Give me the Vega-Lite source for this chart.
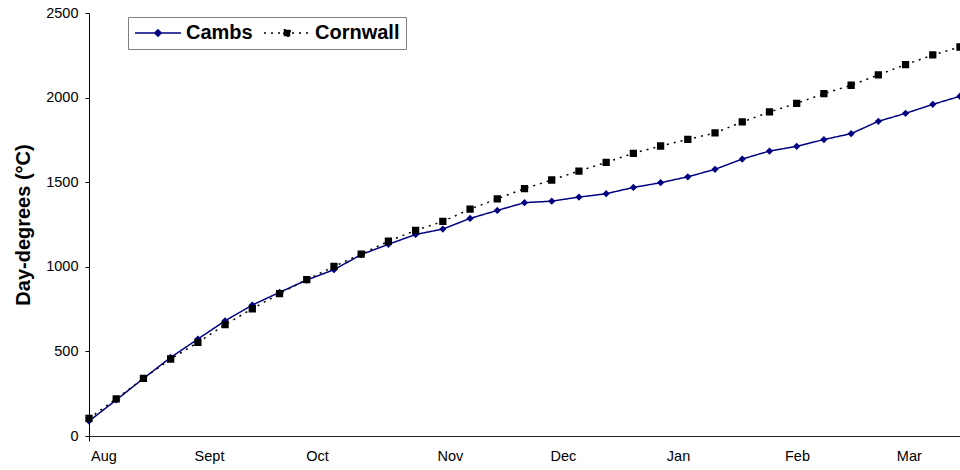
{
  "$schema": "https://vega.github.io/schema/vega-lite/v6.json",
  "width": 871,
  "height": 423,
  "autosize": {"type": "none"},
  "padding": {"left": 89, "top": 13, "right": 0, "bottom": 34},
  "background": "#ffffff",
  "config": {"view": {"stroke": null}, "font": "Liberation Sans"},
  "data": {
    "values": [
      {"week": 0, "series": "Cambs", "dd": 88}, {"week": 0, "series": "Cornwall", "dd": 104},
      {"week": 1, "series": "Cambs", "dd": 213}, {"week": 1, "series": "Cornwall", "dd": 220},
      {"week": 2, "series": "Cambs", "dd": 340}, {"week": 2, "series": "Cornwall", "dd": 341},
      {"week": 3, "series": "Cambs", "dd": 464}, {"week": 3, "series": "Cornwall", "dd": 455},
      {"week": 4, "series": "Cambs", "dd": 573}, {"week": 4, "series": "Cornwall", "dd": 553},
      {"week": 5, "series": "Cambs", "dd": 681}, {"week": 5, "series": "Cornwall", "dd": 658},
      {"week": 6, "series": "Cambs", "dd": 774}, {"week": 6, "series": "Cornwall", "dd": 752},
      {"week": 7, "series": "Cambs", "dd": 849}, {"week": 7, "series": "Cornwall", "dd": 841},
      {"week": 8, "series": "Cambs", "dd": 922}, {"week": 8, "series": "Cornwall", "dd": 924},
      {"week": 9, "series": "Cambs", "dd": 983}, {"week": 9, "series": "Cornwall", "dd": 1002},
      {"week": 10, "series": "Cambs", "dd": 1072}, {"week": 10, "series": "Cornwall", "dd": 1075},
      {"week": 11, "series": "Cambs", "dd": 1133}, {"week": 11, "series": "Cornwall", "dd": 1151},
      {"week": 12, "series": "Cambs", "dd": 1191}, {"week": 12, "series": "Cornwall", "dd": 1215},
      {"week": 13, "series": "Cambs", "dd": 1223}, {"week": 13, "series": "Cornwall", "dd": 1268},
      {"week": 14, "series": "Cambs", "dd": 1286}, {"week": 14, "series": "Cornwall", "dd": 1341},
      {"week": 15, "series": "Cambs", "dd": 1333}, {"week": 15, "series": "Cornwall", "dd": 1402},
      {"week": 16, "series": "Cambs", "dd": 1379}, {"week": 16, "series": "Cornwall", "dd": 1462},
      {"week": 17, "series": "Cambs", "dd": 1388}, {"week": 17, "series": "Cornwall", "dd": 1513},
      {"week": 18, "series": "Cambs", "dd": 1412}, {"week": 18, "series": "Cornwall", "dd": 1566},
      {"week": 19, "series": "Cambs", "dd": 1432}, {"week": 19, "series": "Cornwall", "dd": 1617},
      {"week": 20, "series": "Cambs", "dd": 1469}, {"week": 20, "series": "Cornwall", "dd": 1671},
      {"week": 21, "series": "Cambs", "dd": 1497}, {"week": 21, "series": "Cornwall", "dd": 1714},
      {"week": 22, "series": "Cambs", "dd": 1532}, {"week": 22, "series": "Cornwall", "dd": 1753},
      {"week": 23, "series": "Cambs", "dd": 1576}, {"week": 23, "series": "Cornwall", "dd": 1791},
      {"week": 24, "series": "Cambs", "dd": 1637}, {"week": 24, "series": "Cornwall", "dd": 1856},
      {"week": 25, "series": "Cambs", "dd": 1684}, {"week": 25, "series": "Cornwall", "dd": 1915},
      {"week": 26, "series": "Cambs", "dd": 1712}, {"week": 26, "series": "Cornwall", "dd": 1966},
      {"week": 27, "series": "Cambs", "dd": 1752}, {"week": 27, "series": "Cornwall", "dd": 2023},
      {"week": 28, "series": "Cambs", "dd": 1787}, {"week": 28, "series": "Cornwall", "dd": 2073},
      {"week": 29, "series": "Cambs", "dd": 1860}, {"week": 29, "series": "Cornwall", "dd": 2134},
      {"week": 30, "series": "Cambs", "dd": 1907}, {"week": 30, "series": "Cornwall", "dd": 2195},
      {"week": 31, "series": "Cambs", "dd": 1960}, {"week": 31, "series": "Cornwall", "dd": 2252},
      {"week": 32, "series": "Cambs", "dd": 2008}, {"week": 32, "series": "Cornwall", "dd": 2299}
    ]
  },
  "encoding": {
    "x": {
      "field": "week",
      "type": "quantitative",
      "scale": {"domain": [0, 32], "nice": false, "zero": false},
      "axis": {
        "title": null,
        "grid": false,
        "values": [0, 0.53, 4.41, 8.38, 13.26, 17.41, 21.64, 26.01, 30.12],
        "labelExpr": "datum.value < 0.1 ? '' : datum.value < 1 ? 'Aug' : datum.value < 5 ? 'Sept' : datum.value < 9 ? 'Oct' : datum.value < 14 ? 'Nov' : datum.value < 18 ? 'Dec' : datum.value < 22 ? 'Jan' : datum.value < 27 ? 'Feb' : 'Mar'",
        "labelFont": "Liberation Sans",
        "labelFontSize": 14.5,
        "labelColor": "#000000",
        "labelPadding": 8,
        "labelFlush": false,
        "labelOverlap": false,
        "labelBound": false,
        "tickSize": 5,
        "tickColor": "#000000",
        "tickOpacity": {"condition": {"test": "datum.value === 0", "value": 1}, "value": 0},
        "domainColor": "#222222",
        "domainWidth": 1
      }
    },
    "y": {
      "field": "dd",
      "type": "quantitative",
      "scale": {"domain": [0, 2500], "nice": false},
      "axis": {
        "title": "Day-degrees (°C)",
        "titleFont": "Liberation Sans",
        "titleFontSize": 20,
        "titleFontWeight": "bold",
        "titleColor": "#000000",
        "titlePadding": 12,
        "grid": false,
        "format": "d",
        "values": [0, 500, 1000, 1500, 2000, 2500],
        "labelFont": "Liberation Sans",
        "labelFontSize": 14.5,
        "labelColor": "#000000",
        "labelPadding": 7,
        "tickSize": 4,
        "tickColor": "#000000",
        "domainColor": "#000000",
        "domainWidth": 1
      }
    },
    "color": {
      "field": "series",
      "type": "nominal",
      "scale": {"domain": ["Cambs", "Cornwall"], "range": ["#000080", "#000000"]},
      "legend": {
        "title": null,
        "orient": "none",
        "legendX": 39,
        "legendY": 4,
        "direction": "horizontal",
        "strokeColor": "#808080",
        "fillColor": "#ffffff",
        "padding": 6,
        "labelFont": "Liberation Sans",
        "labelFontSize": 20,
        "labelFontWeight": "bold",
        "labelColor": "#000000",
        "labelOffset": 4,
        "columnPadding": 10,
        "symbolOffset": 0,
        "symbolSize": 2116,
        "symbolStrokeWidth": 1.5,
        "clipHeight": 20
      }
    }
  },
  "layer": [
    {
      "mark": {"type": "line", "strokeWidth": 1.5},
      "encoding": {
        "strokeDash": {
          "field": "series",
          "type": "nominal",
          "scale": {"domain": ["Cambs", "Cornwall"], "range": [[1, 0], [2, 5]]},
          "legend": {"title": null}
        }
      }
    },
    {
      "mark": {"type": "point", "filled": true, "opacity": 1, "strokeWidth": 0, "size": 2704},
      "encoding": {
        "shape": {
          "field": "series",
          "type": "nominal",
          "scale": {
            "domain": ["Cambs", "Cornwall"],
            "range": ["M-1,0H1M0,-0.14L0.14,0L0,0.14L-0.14,0Z", "M-1,0H1M-0.14,-0.14H0.14V0.14H-0.14Z"]
          },
          "legend": {"title": null}
        }
      }
    }
  ]
}
